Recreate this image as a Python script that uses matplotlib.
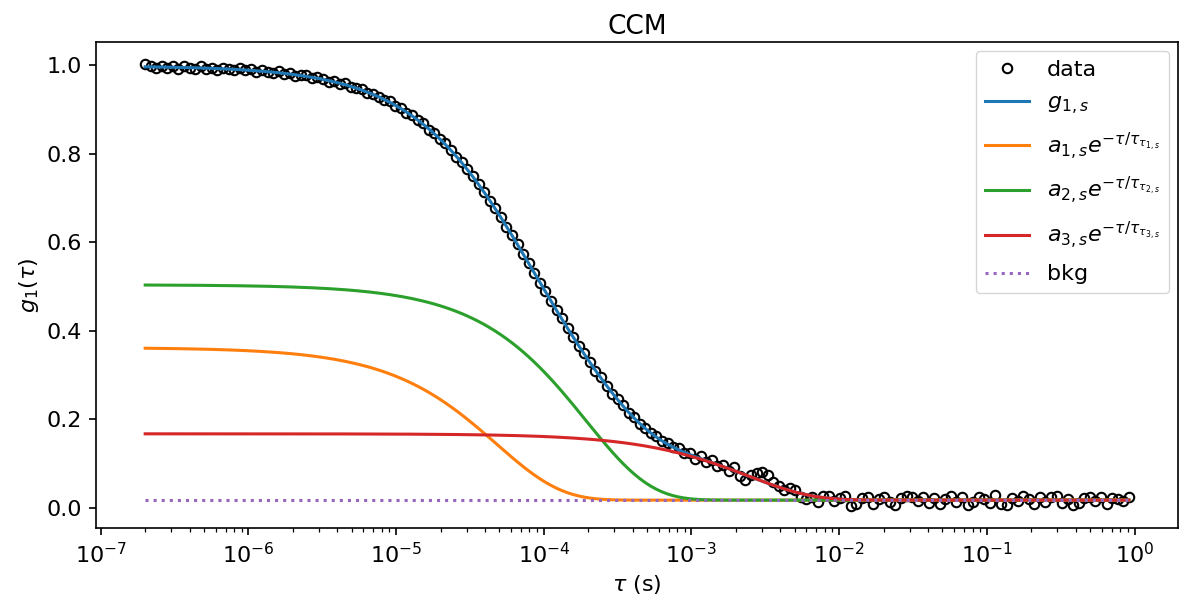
import numpy as np
import matplotlib
matplotlib.use("Agg")
import matplotlib.pyplot as plt
from matplotlib.ticker import FixedLocator, LogLocator

# lag times (s)
tau = [
    2.00e-7, 2.18e-7, 2.38e-7, 2.59e-7, 2.83e-7, 3.08e-7, 3.36e-7, 3.67e-7,
    4.00e-7, 4.36e-7, 4.76e-7, 5.19e-7, 5.66e-7, 6.17e-7, 6.73e-7, 7.34e-7,
    8.00e-7, 8.72e-7, 9.51e-7, 1.04e-6, 1.13e-6, 1.23e-6, 1.35e-6, 1.47e-6,
    1.60e-6, 1.74e-6, 1.90e-6, 2.07e-6, 2.26e-6, 2.47e-6, 2.69e-6, 2.93e-6,
    3.20e-6, 3.49e-6, 3.81e-6, 4.15e-6, 4.53e-6, 4.94e-6, 5.38e-6, 5.87e-6,
    6.40e-6, 6.98e-6, 7.61e-6, 8.30e-6, 9.05e-6, 9.87e-6, 1.08e-5, 1.17e-5,
    1.28e-5, 1.40e-5, 1.52e-5, 1.66e-5, 1.81e-5, 1.97e-5, 2.15e-5, 2.35e-5,
    2.56e-5, 2.79e-5, 3.04e-5, 3.32e-5, 3.62e-5, 3.95e-5, 4.31e-5, 4.70e-5,
    5.12e-5, 5.58e-5, 6.09e-5, 6.64e-5, 7.24e-5, 7.90e-5, 8.61e-5, 9.39e-5,
    1.02e-4, 1.12e-4, 1.22e-4, 1.33e-4, 1.45e-4, 1.58e-4, 1.72e-4, 1.88e-4,
    2.05e-4, 2.23e-4, 2.44e-4, 2.66e-4, 2.90e-4, 3.16e-4, 3.44e-4, 3.76e-4,
    4.10e-4, 4.47e-4, 4.87e-4, 5.31e-4, 5.79e-4, 6.32e-4, 6.89e-4, 7.51e-4,
    8.19e-4, 8.93e-4, 9.74e-4, 1.06e-3, 1.16e-3, 1.26e-3, 1.38e-3, 1.50e-3,
    1.64e-3, 1.79e-3, 1.95e-3, 2.12e-3, 2.32e-3, 2.53e-3, 2.76e-3, 3.00e-3,
    3.28e-3, 3.57e-3, 3.90e-3, 4.25e-3, 4.63e-3, 5.05e-3, 5.51e-3, 6.01e-3,
    6.55e-3, 7.15e-3, 7.79e-3, 8.50e-3, 9.27e-3, 1.01e-2, 1.10e-2, 1.20e-2,
    1.31e-2, 1.43e-2, 1.56e-2, 1.70e-2, 1.85e-2, 2.02e-2, 2.20e-2, 2.40e-2,
    2.62e-2, 2.86e-2, 3.12e-2, 3.40e-2, 3.71e-2, 4.04e-2, 4.41e-2, 4.81e-2,
    5.24e-2, 5.72e-2, 6.23e-2, 6.80e-2, 7.41e-2, 8.09e-2, 8.82e-2, 9.62e-2,
    0.105, 0.114, 0.125, 0.136, 0.148, 0.162, 0.176, 0.192,
    0.210, 0.229, 0.249, 0.272, 0.297, 0.323, 0.353, 0.385,
    0.419, 0.457, 0.499, 0.544, 0.593, 0.647, 0.705, 0.769,
    0.839, 0.915,
]

# measured g1(tau)
g1_data = [
    1.003, 0.998, 0.994, 0.999, 0.994, 0.998, 0.992, 0.998,
    0.995, 0.992, 0.998, 0.993, 0.995, 0.990, 0.995, 0.993,
    0.989, 0.994, 0.989, 0.991, 0.985, 0.989, 0.986, 0.983,
    0.987, 0.981, 0.983, 0.977, 0.979, 0.978, 0.971, 0.974,
    0.969, 0.963, 0.965, 0.959, 0.960, 0.951, 0.950, 0.947,
    0.937, 0.936, 0.929, 0.921, 0.919, 0.909, 0.904, 0.892,
    0.887, 0.877, 0.869, 0.855, 0.847, 0.833, 0.824, 0.809,
    0.793, 0.781, 0.765, 0.750, 0.731, 0.714, 0.694, 0.678,
    0.657, 0.635, 0.617, 0.597, 0.573, 0.554, 0.531, 0.508,
    0.491, 0.468, 0.446, 0.429, 0.406, 0.387, 0.365, 0.350,
    0.330, 0.310, 0.295, 0.276, 0.258, 0.246, 0.232, 0.215,
    0.204, 0.189, 0.181, 0.168, 0.162, 0.150, 0.146, 0.138,
    0.135, 0.123, 0.123, 0.111, 0.116, 0.103, 0.108, 0.095,
    0.097, 0.082, 0.092, 0.071, 0.062, 0.073, 0.079, 0.080,
    0.073, 0.057, 0.049, 0.039, 0.045, 0.039, 0.024, 0.019,
    0.023, 0.013, 0.027, 0.027, 0.014, 0.021, 0.027, 0.004,
    0.008, 0.021, 0.023, 0.009, 0.019, 0.025, 0.013, 0.005,
    0.021, 0.027, 0.023, 0.015, 0.025, 0.011, 0.021, 0.009,
    0.019, 0.027, 0.013, 0.023, 0.007, 0.013, 0.025, 0.019,
    0.011, 0.029, 0.009, 0.005, 0.021, 0.015, 0.027, 0.019,
    0.009, 0.023, 0.013, 0.025, 0.027, 0.011, 0.019, 0.007,
    0.011, 0.021, 0.025, 0.015, 0.023, 0.009, 0.021, 0.019,
    0.015, 0.025,
]

# fitted parameters of the three-exponential model (CCM)
a_fit = [0.345, 0.487, 0.150]
tau_fit = [4.79e-5, 1.94e-4, 2.4e-3]
bkg = 0.017

labels = [r'$a_{1,s}e^{-\tau/\tau_{\tau_{1,s}}}$',
          r'$a_{2,s}e^{-\tau/\tau_{\tau_{2,s}}}$',
          r'$a_{3,s}e^{-\tau/\tau_{\tau_{3,s}}}$']
colors = ['#ff7f0e', '#2ca02c', '#d62728']
xticks = [1e-7, 1e-6, 1e-5, 1e-4, 1e-3, 1e-2, 1e-1, 1e0]

t = np.array(tau)
comps = [a * np.exp(-t / tf) for a, tf in zip(a_fit, tau_fit)]
g_fit = sum(comps) + bkg

FS = 16
plt.rcParams.update({
    'font.size': FS,
    'axes.linewidth': 1.2,
    'xtick.major.size': 5.2, 'ytick.major.size': 5.2,
    'xtick.minor.size': 3.0, 'ytick.minor.size': 3.0,
    'xtick.major.width': 1.2, 'ytick.major.width': 1.2,
    'xtick.minor.width': 0.9,
    'xtick.major.pad': 5, 'ytick.major.pad': 5,
})

fig = plt.figure(figsize=(11.8, 6.01), dpi=100)
ax = fig.add_axes([96 / 1180, 0.1215, (1178 - 96) / 1180, 0.8085])
lw = 2.2
ax.plot(t, g1_data, 'o', mfc='none', mec='black', ms=6.8, mew=1.5,
        color='black', label='data')
ax.plot(t, g_fit, color='#1f77b4', lw=lw, label=r'$g_{1,s}$')
for c, lab, col in zip(comps, labels, colors):
    ax.plot(t, c + bkg, color=col, lw=lw, label=lab)
ax.plot(t, np.full_like(t, bkg), ':', color='#9467bd', lw=lw, label='bkg')

ax.set_xscale('log')
ax.xaxis.set_major_locator(FixedLocator(xticks))
ax.xaxis.set_minor_locator(LogLocator(base=10, subs=np.arange(2, 10), numticks=20))
ax.set_xlabel(r'$\tau$ (s)')
ax.set_ylabel(r'$g_1(\tau)$')
ax.set_title('CCM', fontsize=19)
ax.legend(loc='upper right', fontsize=FS, borderaxespad=0.4, labelspacing=0.6)

fig.savefig('out.png', dpi=100)
